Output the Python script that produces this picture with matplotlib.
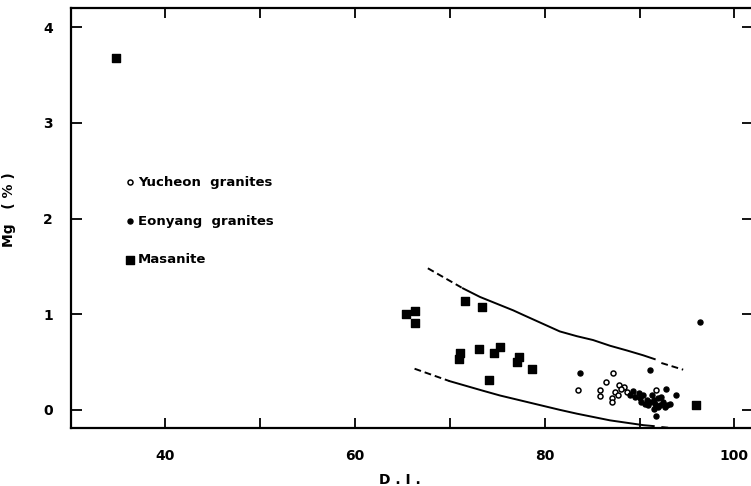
import matplotlib
matplotlib.use("Agg")
import matplotlib.pyplot as plt

plt.rcParams['font.family'] = 'DejaVu Sans'
plt.rcParams['font.weight'] = 'bold'

# Masanite (filled squares)
masanite_di = [34.8, 65.4, 66.3, 66.3, 71.6, 73.4, 71.1, 71.0, 73.1, 74.7,
               75.3, 77.3, 77.1, 78.7, 74.1, 95.9]
masanite_mg = [3.68, 1.00, 1.03, 0.91, 1.14, 1.08, 0.59, 0.53, 0.64, 0.59,
               0.66, 0.55, 0.50, 0.43, 0.31, 0.05]

# Eonyang granites (filled circles)
eonyang_di = [96.4, 83.7, 91.1, 92.8, 93.8, 91.7, 89.0, 89.5, 90.1, 90.4,
              90.8, 91.1, 91.5, 91.6, 92.0, 92.2, 92.5, 92.9, 93.2, 92.3,
              91.3, 91.9, 90.9, 90.2, 89.9, 89.3, 91.5, 92.7, 90.6]
eonyang_mg = [0.92, 0.38, 0.42, 0.22, 0.16, -0.06, 0.15, 0.13, 0.12, 0.15,
              0.10, 0.08, 0.10, 0.06, 0.12, 0.05, 0.08, 0.05, 0.06, 0.13,
              0.16, 0.03, 0.05, 0.08, 0.18, 0.20, 0.01, 0.03, 0.06]

# Yucheon granites (open circles)
yucheon_di = [83.5, 87.2, 86.5, 85.8, 85.8, 87.8, 88.4, 88.0, 87.4, 87.1,
              87.1, 88.7, 89.2, 91.7, 87.7]
yucheon_mg = [0.21, 0.38, 0.29, 0.21, 0.14, 0.26, 0.24, 0.22, 0.19, 0.12,
              0.08, 0.19, 0.17, 0.21, 0.16]

# envelope curves
upper_left_di = [67.7, 71.4]
upper_left_mg = [1.48, 1.27]
upper_di = [71.4, 73.2, 76.7, 77.8, 81.6, 83.4, 85.1, 86.9, 88.7, 90.4, 91.6]
upper_mg = [1.27, 1.18, 1.04, 0.99, 0.82, 0.77, 0.73, 0.67, 0.62, 0.57, 0.53]
upper_right_di = [92.3, 94.6]
upper_right_mg = [0.49, 0.42]

lower_left_di = [66.3, 70.0]
lower_left_mg = [0.43, 0.30]
lower_di = [70.0, 73.5, 75.3, 77.4, 81.6, 83.4, 86.9, 90.4, 91.5]
lower_mg = [0.30, 0.20, 0.15, 0.10, 0.00, -0.04, -0.11, -0.16, -0.17]
lower_right_di = [92.3, 94.4]
lower_right_mg = [-0.18, -0.20]

fig = plt.figure(figsize=(7.51, 4.86), dpi=100)
ax = fig.add_axes([0.0945, 0.1193, 0.9087, 0.864])

dash = (0, (3.5, 2))
for xs, ys, ls in [(upper_left_di, upper_left_mg, dash), (upper_di, upper_mg, '-'),
                   (upper_right_di, upper_right_mg, dash),
                   (lower_left_di, lower_left_mg, dash), (lower_di, lower_mg, '-'),
                   (lower_right_di, lower_right_mg, dash)]:
    ax.plot(xs, ys, color='black', lw=1.4, linestyle=ls)

yu = ax.scatter(yucheon_di, yucheon_mg, s=13, facecolors='white',
                edgecolors='black', linewidths=1.1, label='Yucheon  granites', zorder=3)
eo = ax.scatter(eonyang_di, eonyang_mg, s=13, color='black',
                label='Eonyang  granites', zorder=4)
ma = ax.scatter(masanite_di, masanite_mg, s=32, marker='s', color='black',
                label='Masanite', zorder=4)

ax.set_xlim(30.1, 102.0)
ax.set_ylim(-0.19, 4.20)
ax.set_xticks([40, 50, 60, 70, 80, 90, 100])
ax.set_xticklabels(['40', '', '60', '', '80', '', '100'])
ax.set_yticks([0, 1, 2, 3, 4])
ax.tick_params(axis='x', direction='in', length=7, width=1.3, top=True,
               pad=15, labelsize=10)
ax.tick_params(axis='y', direction='in', length=8, width=1.3, right=True,
               pad=13, labelsize=10)

for side in ['left', 'bottom', 'top']:
    ax.spines[side].set_linewidth(1.6)
ax.spines['right'].set_visible(False)

ax.set_xlabel('D . I .', fontsize=10, fontweight='bold')
ax.xaxis.set_label_coords(0.482, -0.107)
ax.set_ylabel('Mg   ( % )', fontsize=10, fontweight='bold')
ax.yaxis.set_label_coords(-0.081, 0.52)

ax.legend(handles=[yu, eo, ma], loc='upper left', frameon=False,
          bbox_to_anchor=(0.168, 0.638), bbox_transform=fig.transFigure,
          borderpad=0, borderaxespad=0, handlelength=0.6, handletextpad=0.3,
          labelspacing=1.95, fontsize=9.5, scatterpoints=1)

fig.savefig('out.png', dpi=100)
